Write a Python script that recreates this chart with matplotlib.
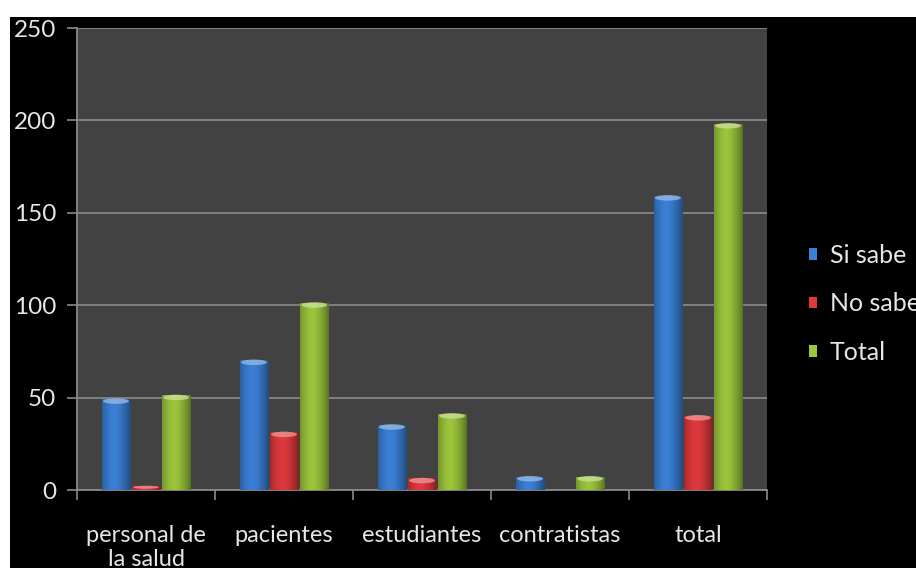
import numpy as np
import matplotlib
matplotlib.use("Agg")
import matplotlib.pyplot as plt
from matplotlib.patches import Patch, Ellipse, Rectangle
from matplotlib.colors import to_rgb

categories = ["personal de\nla salud", "pacientes", "estudiantes", "contratistas", "total"]
series_names = ["Si sabe", "No sabe", "Total"]
si_sabe = [49, 70, 35, 7, 159]
no_sabe = [2, 31, 6, 0, 40]
total = [51, 101, 41, 7, 198]
y_ticks = [0, 50, 100, 150, 200, 250]

colors = ["#3b80d6", "#de3a3c", "#9cc63c"]
text_col = "#e6e6e6"
font = ["Lato", "DejaVu Sans"]

fig = plt.figure(figsize=(9.16, 5.68), dpi=100, facecolor="black")
ax = fig.add_axes([0.0841, 0.1373, 0.7532, 0.8134])
ax.set_facecolor("#424242")

x = np.arange(len(categories))
width = 0.205
offsets = [-0.218, 0.0, 0.218]


def shade_bar(rect, base):
    """Cylinder-like shading over a bar plus a lighter top cap."""
    x0, w, h = rect.get_x(), rect.get_width(), rect.get_height()
    if h <= 0:
        return
    r, g, b = to_rgb(base)
    t = np.linspace(0, 1, 64)
    # brighter slightly left of centre, darker towards both edges
    light = 1.0 - 0.45 * np.abs(t - 0.42) ** 1.6 * 2.2
    light = np.clip(light, 0.55, 1.08)
    img = np.zeros((1, t.size, 3))
    img[0, :, 0] = np.clip(r * light, 0, 1)
    img[0, :, 1] = np.clip(g * light, 0, 1)
    img[0, :, 2] = np.clip(b * light, 0, 1)
    ax.imshow(img, extent=[x0, x0 + w, 0, h], aspect="auto",
              interpolation="bilinear", zorder=3)
    cap_col = tuple(min(1, c * 0.55 + 0.45) for c in (r, g, b))
    cap_h = min(3.0, h * 0.8)
    ax.add_patch(Ellipse((x0 + w / 2, h - cap_h * 0.3), w * 0.92, cap_h,
                         facecolor=cap_col, edgecolor="none", zorder=4, alpha=0.8))


for vals, off, col in zip([si_sabe, no_sabe, total], offsets, colors):
    bars = ax.bar(x + off, vals, width, color=col, zorder=2, linewidth=0)
    for rect in bars:
        shade_bar(rect, col)

ax.set_xlim(-0.5, len(categories) - 0.5)
ax.set_ylim(0, 250)

ax.set_yticks(y_ticks)
ax.set_yticklabels([str(v) for v in y_ticks])
ax.yaxis.grid(True, color="#858585", linewidth=1.3, zorder=1)
ax.set_axisbelow(True)

ax.set_xticks(x)
ax.set_xticklabels(categories)
ax.set_xticks(np.arange(-0.5, len(categories), 1.0), minor=True)
ax.tick_params(axis="x", which="major", length=0, pad=25, labelsize=17,
               labelcolor=text_col)
ax.tick_params(axis="x", which="minor", length=7, width=1.2, color="#8a8a8a")
ax.tick_params(axis="y", length=7, width=1.2, color="#8a8a8a", pad=8,
               labelsize=17.5, labelcolor=text_col)
for lab in ax.get_xticklabels() + ax.get_yticklabels():
    lab.set_family(font)
    lab.set_linespacing(1.2)

for side in ("top", "right"):
    ax.spines[side].set_visible(False)
ax.spines["left"].set_color("#8a8a8a")
ax.spines["left"].set_linewidth(1.3)
ax.spines["bottom"].set_color("#8a8a8a")
ax.spines["bottom"].set_linewidth(1.3)

handles = [Patch(facecolor=c, edgecolor="none") for c in colors]
leg = fig.legend(handles, series_names, loc="center left",
                 bbox_to_anchor=(0.883, 0.4648), frameon=False,
                 handlelength=0.34, handleheight=0.34, handletextpad=0.5,
                 labelspacing=1.03, borderaxespad=0, borderpad=0,
                 prop={"family": font, "size": 18})
for txt in leg.get_texts():
    txt.set_color(text_col)

# white page margins along the top and left edges
fig.patches.append(Rectangle((0, 1 - 17 / 568), 1, 17 / 568, transform=fig.transFigure,
                             facecolor="white", edgecolor="none", zorder=10))
fig.patches.append(Rectangle((0, 0), 10 / 916, 1, transform=fig.transFigure,
                             facecolor="white", edgecolor="none", zorder=10))

fig.savefig("out.png", dpi=100, facecolor="black")
